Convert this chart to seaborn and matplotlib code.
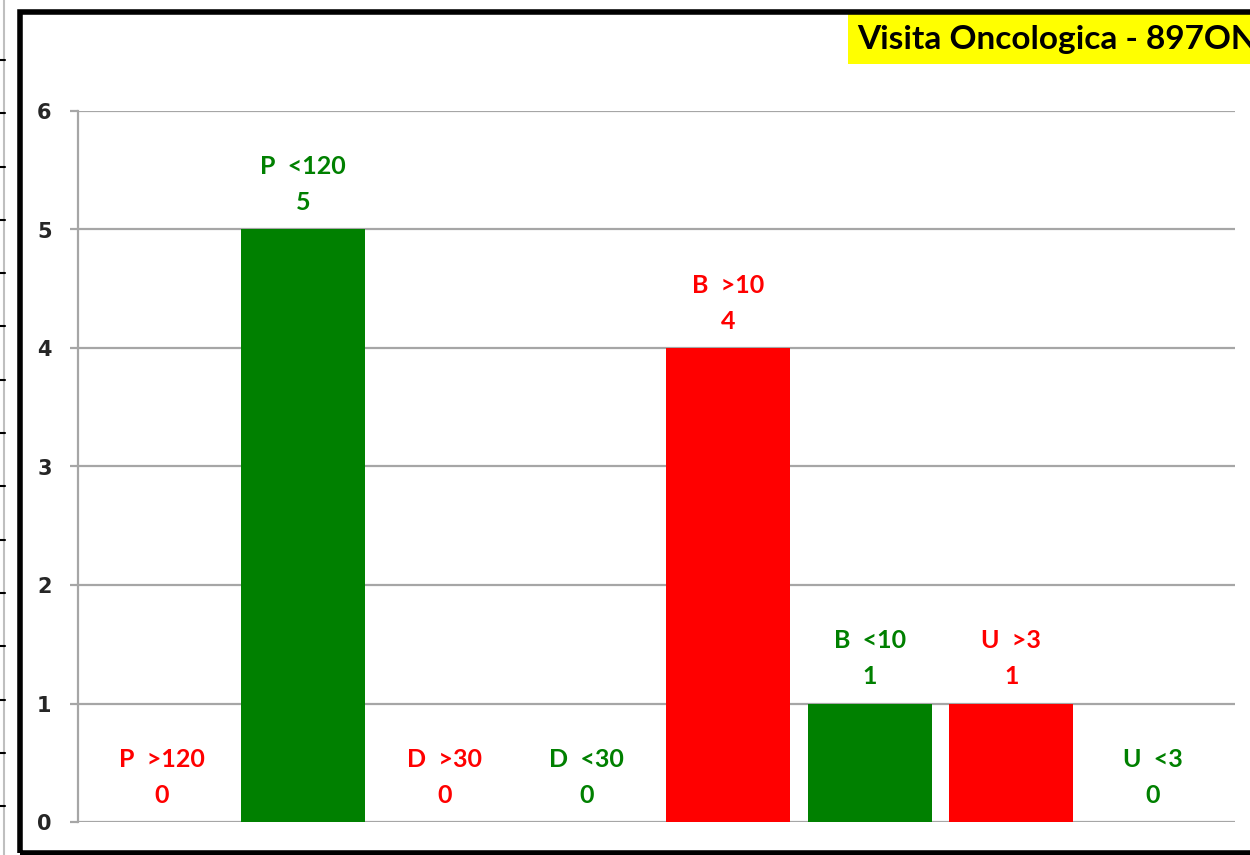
import numpy as np
import pandas as pd
import seaborn as sns
import matplotlib.pyplot as plt
from matplotlib.patches import Rectangle
from matplotlib.lines import Line2D

# datos del grafico
categorias = ["P  >120", "P  <120", "D  >30", "D  <30", "B  >10", "B  <10", "U  >3", "U  <3"]
valores = [0, 5, 0, 0, 4, 1, 1, 0]
colores = ["#FF0000", "#008000", "#FF0000", "#008000", "#FF0000", "#008000", "#FF0000", "#008000"]
titulo = "Visita Oncologica - 897ON"
y_ticks = [0, 1, 2, 3, 4, 5, 6]

sns.set_style("white")
plt.rcParams["font.family"] = ["Lato", "DejaVu Sans"]
plt.rcParams["font.weight"] = "bold"

df = pd.DataFrame({"categoria": categorias, "valor": valores})

fig = plt.figure(figsize=(12.5, 8.55), dpi=100)
ax = fig.add_axes([78 / 1250, 1 - 822 / 855, (1235 - 78) / 1250, (822 - 111) / 855])

sns.barplot(data=df, x="categoria", y="valor", hue="categoria", palette=colores,
            width=0.875, legend=False, ax=ax, saturation=1, zorder=3, linewidth=0)

ax.set_xlim(-0.59, 7.58)
ax.set_ylim(0, 6)
ax.set_yticks(y_ticks)
ax.set_yticklabels([str(t) for t in y_ticks], fontsize=15, fontweight="bold",
                   family="DejaVu Sans")
ax.set_xticks([])
ax.set_xlabel("")
ax.set_ylabel("")

gris = "#a6a6a6"
ax.grid(axis="y", color=gris, linewidth=1.6, zorder=0)
ax.set_axisbelow(True)
for s in ["top", "right", "bottom"]:
    ax.spines[s].set_visible(False)
ax.spines["left"].set_color(gris)
ax.spines["left"].set_linewidth(1.6)
ax.tick_params(axis="y", length=6, width=1.6, color=gris, pad=13, left=True)

# etiquetas de las barras (categoria + valor)
for i, (cat, val, col) in enumerate(zip(categorias, valores, colores)):
    ax.annotate(str(val), (i, val), xytext=(0, 27), textcoords="offset pixels",
                ha="center", va="center", color=col, fontsize=18, fontweight="bold")
    ax.annotate(cat, (i, val), xytext=(0, 63), textcoords="offset pixels",
                ha="center", va="center", color=col, fontsize=18, fontweight="bold")

# marco negro del grafico
fig.patches.append(Rectangle((20 / 1250, 2 / 855), 1.1, 841 / 855, transform=fig.transFigure,
                             fill=False, edgecolor="black", linewidth=4, zorder=5))

# titulo con fondo amarillo
fig.patches.append(Rectangle((848 / 1250, 1 - 64 / 855), 0.5, 50 / 855, transform=fig.transFigure,
                             facecolor="#FFFF00", edgecolor="none", zorder=4))
fig.text(857 / 1250, 1 - 40 / 855, titulo, fontsize=24, fontweight="bold",
         color="black", ha="left", va="center", zorder=6)

# resto de la hoja a la izquierda
fig.lines.append(Line2D([4 / 1250, 4 / 1250], [0, 1], transform=fig.transFigure,
                        color="#bfbfbf", linewidth=1.5))
for yp in np.arange(60, 855, 53.3):
    fig.lines.append(Line2D([0, 5 / 1250], [1 - yp / 855, 1 - yp / 855],
                            transform=fig.transFigure, color="black", linewidth=1.5))

plt.savefig("out.png", dpi=100)
plt.close()
